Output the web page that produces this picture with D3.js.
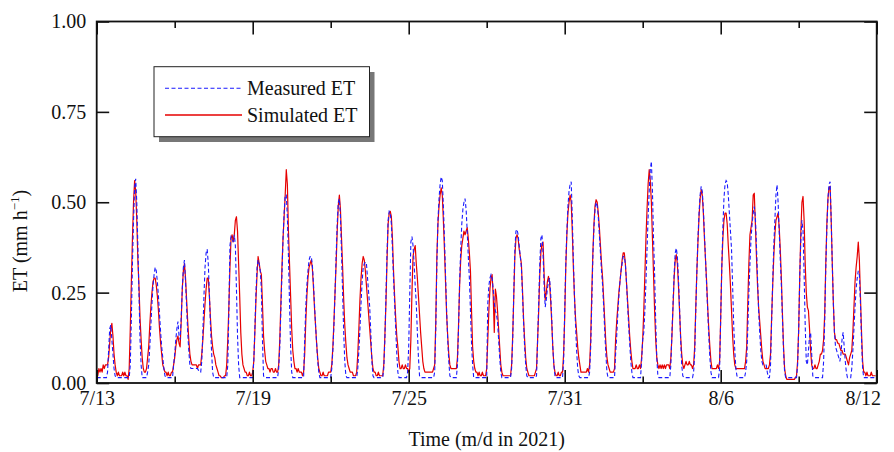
<!DOCTYPE html>
<html><head><meta charset="utf-8">
<script src="https://cdn.jsdelivr.net/npm/d3@7"></script>
<style>
body{margin:0;background:#fff}
svg{display:block}
text{font-family:"Liberation Serif","Times New Roman",serif;fill:#111}
</style>
</head><body>
<svg id="chart" width="894" height="452"></svg>
<script>
// ---- data (hourly ET, mm h-1), one row per day starting 2021-07-13 00:00 ----
const startDate = "2021-07-13";
const endDate = "2021-08-12";
const majorTickLabels = ["7/13","7/19","7/25","7/31","8/6","8/12"];
const yTickValues = [0, 0.25, 0.5, 0.75, 1.0];
const seriesNames = ["Measured ET", "Simulated ET"];
const xTitle = "Time (m/d in 2021)";

const measured = [
[.015,.015,.015,.015,.015,.015,.015,.015,.015,.015,.03,.09,.15,.16,.12,.08,.04,.02,.015,.015,.015,.015,.015,.015],
[.015,.015,.015,.015,.015,.015,.015,.05,.18,.33,.45,.54,.565,.50,.38,.25,.12,.05,.015,.015,.015,.015,.015,.03],
[.05,.10,.16,.22,.27,.30,.32,.31,.28,.24,.19,.14,.10,.07,.04,.02,.015,.015,.015,.015,.015,.015,.015,.05],
[.08,.12,.15,.17,.13,.12,.18,.26,.32,.34,.28,.21,.14,.09,.05,.04,.04,.04,.04,.04,.04,.04,.035,.03],
[.03,.06,.14,.24,.32,.36,.37,.33,.25,.16,.09,.03,.015,.015,.015,.015,.015,.015,.015,.015,.015,.015,.015,.015],
[.015,.05,.20,.38,.405,.40,.39,.41,.38,.26,.13,.05,.015,.015,.015,.015,.015,.015,.015,.015,.015,.015,.015,.015],
[.015,.06,.15,.25,.32,.34,.33,.31,.26,.12,.02,.015,.015,.015,.015,.015,.015,.015,.015,.015,.015,.015,.015,.015],
[.04,.10,.20,.30,.40,.47,.52,.52,.46,.35,.22,.10,.03,.015,.015,.015,.015,.015,.015,.015,.015,.015,.015,.015],
[.12,.21,.27,.31,.34,.35,.35,.33,.28,.22,.16,.11,.06,.03,.015,.015,.015,.015,.015,.015,.015,.015,.015,.015],
[.015,.04,.09,.16,.25,.35,.44,.50,.51,.46,.36,.25,.14,.06,.02,.015,.015,.015,.015,.015,.015,.015,.015,.015],
[.015,.04,.09,.15,.22,.28,.32,.33,.335,.33,.29,.25,.21,.14,.06,.02,.015,.015,.015,.015,.015,.015,.015,.015],
[.015,.04,.12,.24,.36,.45,.475,.47,.44,.37,.29,.22,.15,.08,.03,.015,.015,.015,.015,.015,.015,.015,.015,.03],
[.10,.25,.39,.405,.38,.33,.27,.22,.14,.07,.02,.015,.015,.015,.015,.015,.015,.015,.015,.015,.015,.015,.015,.015],
[.03,.15,.33,.45,.51,.55,.57,.56,.49,.40,.30,.20,.12,.06,.02,.015,.015,.015,.015,.015,.015,.05,.15,.28],
[.37,.44,.48,.50,.51,.48,.42,.35,.29,.20,.11,.05,.015,.015,.015,.015,.015,.015,.015,.015,.015,.015,.015,.015],
[.015,.22,.27,.29,.30,.29,.26,.22,.20,.19,.17,.12,.07,.03,.015,.015,.015,.015,.015,.015,.015,.015,.015,.04],
[.12,.25,.37,.42,.425,.41,.38,.35,.32,.25,.17,.10,.05,.02,.015,.015,.015,.015,.015,.015,.015,.015,.02,.12],
[.22,.33,.40,.41,.36,.27,.21,.23,.26,.28,.29,.25,.18,.10,.05,.02,.015,.015,.015,.015,.015,.015,.015,.06],
[.20,.33,.42,.49,.53,.55,.557,.46,.34,.24,.16,.09,.04,.02,.015,.015,.015,.015,.015,.015,.015,.015,.015,.03],
[.10,.22,.35,.43,.48,.50,.49,.46,.41,.36,.31,.27,.21,.14,.08,.03,.015,.015,.015,.015,.015,.015,.015,.08],
[.13,.19,.24,.28,.31,.33,.35,.35,.33,.28,.22,.16,.11,.06,.03,.015,.015,.015,.015,.015,.015,.015,.015,.06],
[.12,.14,.20,.28,.37,.46,.53,.59,.613,.53,.40,.30,.17,.07,.02,.015,.015,.015,.015,.015,.015,.015,.015,.015],
[.015,.015,.05,.14,.22,.30,.36,.373,.35,.29,.21,.12,.05,.02,.015,.015,.015,.015,.015,.015,.015,.015,.015,.03],
[.08,.20,.31,.40,.47,.52,.544,.53,.48,.41,.34,.27,.20,.13,.07,.03,.015,.015,.015,.015,.015,.015,.015,.04],
[.18,.32,.43,.51,.55,.56,.555,.52,.47,.42,.37,.27,.16,.09,.04,.02,.015,.015,.015,.015,.015,.015,.015,.03],
[.06,.15,.25,.33,.40,.44,.47,.488,.46,.38,.29,.20,.14,.09,.06,.05,.05,.05,.05,.03,.015,.015,.05,.17],
[.28,.38,.45,.52,.548,.50,.42,.34,.27,.18,.09,.03,.015,.015,.015,.015,.015,.015,.015,.015,.015,.015,.015,.05],
[.15,.30,.40,.45,.42,.30,.16,.06,.05,.09,.13,.14,.08,.02,.015,.015,.015,.015,.015,.015,.015,.015,.015,.06],
[.17,.32,.43,.51,.55,.557,.45,.33,.22,.14,.10,.09,.08,.07,.06,.08,.12,.14,.10,.06,.03,.015,.015,.015],
[.015,.04,.09,.15,.21,.26,.29,.31,.30,.22,.12,.04,.015,.015,.015,.015,.015,.015,.015,.015,.015,.015,.015,.015]
];

const simulated = [
[.02,.02,.04,.03,.04,.03,.05,.04,.05,.05,.05,.07,.11,.15,.165,.13,.08,.05,.03,.02,.03,.02,.02,.02],
[.03,.02,.03,.02,.02,.01,.04,.15,.28,.40,.50,.56,.53,.45,.34,.27,.18,.12,.07,.04,.03,.03,.04,.07],
[.10,.16,.21,.25,.28,.29,.29,.27,.24,.20,.15,.11,.08,.05,.04,.03,.03,.02,.03,.02,.02,.03,.03,.05],
[.07,.10,.12,.13,.11,.10,.17,.26,.31,.33,.29,.23,.17,.12,.08,.06,.05,.05,.05,.05,.05,.04,.05,.05],
[.05,.08,.12,.17,.22,.26,.29,.29,.24,.18,.13,.10,.08,.07,.05,.04,.03,.02,.02,.015,.015,.015,.02,.02],
[.05,.12,.21,.32,.40,.41,.39,.41,.45,.46,.42,.33,.24,.14,.08,.05,.04,.03,.03,.02,.02,.03,.02,.02],
[.03,.06,.14,.23,.30,.35,.33,.31,.30,.22,.13,.09,.06,.05,.04,.04,.03,.04,.04,.03,.03,.04,.03,.03],
[.05,.12,.22,.32,.40,.46,.52,.59,.55,.42,.33,.24,.15,.09,.06,.04,.04,.03,.04,.03,.03,.03,.02,.03],
[.08,.17,.24,.29,.32,.33,.34,.32,.27,.21,.16,.11,.07,.04,.03,.02,.02,.03,.02,.02,.02,.02,.03,.03],
[.03,.05,.10,.17,.25,.33,.42,.49,.52,.48,.40,.32,.23,.16,.11,.07,.05,.04,.03,.03,.03,.02,.02,.02],
[.03,.08,.15,.23,.29,.33,.35,.34,.31,.27,.23,.19,.15,.11,.07,.04,.03,.03,.02,.02,.03,.02,.02,.02],
[.02,.05,.13,.22,.34,.44,.47,.475,.46,.40,.31,.24,.18,.13,.10,.06,.04,.04,.05,.04,.04,.05,.04,.04],
[.03,.04,.12,.25,.35,.37,.38,.33,.29,.24,.19,.14,.10,.06,.04,.03,.03,.03,.03,.03,.03,.03,.03,.04],
[.05,.17,.35,.44,.49,.52,.54,.52,.45,.37,.28,.19,.13,.08,.05,.04,.04,.04,.04,.04,.04,.07,.16,.27],
[.34,.38,.40,.42,.41,.42,.43,.40,.36,.31,.20,.10,.06,.04,.03,.03,.02,.03,.02,.02,.03,.02,.02,.02],
[.04,.12,.20,.26,.29,.30,.24,.14,.26,.24,.20,.15,.10,.05,.03,.02,.02,.02,.02,.02,.02,.02,.02,.05],
[.13,.24,.35,.40,.41,.40,.37,.35,.33,.26,.18,.12,.07,.04,.03,.02,.02,.02,.02,.02,.02,.03,.04,.12],
[.20,.30,.36,.385,.39,.30,.23,.25,.28,.295,.28,.23,.17,.10,.05,.03,.02,.02,.03,.02,.02,.03,.03,.08],
[.18,.32,.41,.47,.50,.52,.50,.42,.32,.24,.18,.14,.10,.07,.05,.03,.03,.03,.03,.03,.03,.04,.03,.05],
[.12,.25,.36,.44,.49,.507,.50,.47,.43,.38,.33,.29,.23,.17,.11,.07,.05,.04,.03,.03,.03,.03,.04,.12],
[.17,.21,.25,.28,.31,.34,.36,.36,.33,.28,.23,.18,.13,.09,.06,.04,.04,.04,.05,.04,.04,.05,.04,.07],
[.12,.20,.30,.40,.48,.55,.59,.56,.50,.40,.30,.20,.12,.07,.05,.04,.05,.04,.05,.04,.05,.04,.05,.05],
[.05,.04,.07,.13,.21,.29,.34,.355,.33,.27,.20,.13,.08,.05,.04,.05,.06,.05,.05,.06,.05,.05,.04,.05],
[.10,.21,.31,.39,.46,.51,.535,.52,.47,.40,.34,.28,.21,.15,.10,.06,.04,.04,.04,.04,.04,.05,.04,.06],
[.18,.32,.40,.45,.47,.47,.44,.38,.33,.27,.20,.13,.08,.05,.04,.04,.04,.04,.04,.04,.04,.04,.04,.06],
[.10,.22,.33,.41,.43,.45,.52,.525,.44,.35,.27,.21,.17,.13,.09,.06,.05,.04,.04,.04,.04,.05,.08,.18],
[.27,.35,.41,.45,.46,.47,.43,.37,.29,.19,.10,.04,.02,.01,.01,.01,.01,.01,.01,.01,.01,.015,.02,.06],
[.15,.30,.42,.50,.516,.45,.33,.25,.21,.20,.15,.09,.05,.04,.04,.05,.04,.04,.05,.06,.08,.08,.09,.12],
[.19,.33,.44,.51,.54,.544,.45,.33,.22,.14,.12,.12,.11,.11,.10,.09,.09,.08,.08,.08,.07,.06,.05,.07],
[.08,.09,.14,.21,.28,.32,.35,.39,.34,.24,.14,.06,.03,.03,.02,.03,.02,.02,.02,.03,.02,.02,.02,.02]
];

// ---- build ----
const t0 = new Date(startDate + "T00:00:00Z");
const t1 = new Date(endDate + "T00:00:00Z");
function toSeries(rows) {
  const out = [];
  rows.forEach((row, d) => row.forEach((v, h) => {
    out.push({ t: d3.utcHour.offset(t0, d * 24 + h), v });
  }));
  return out;
}
const mSeries = toSeries(measured);
const sSeries = toSeries(simulated);

const L = 96.7, R = 876.7, T = 21.5, B = 383;
const svg = d3.select("#chart");
const x = d3.scaleUtc().domain([t0, t1]).range([L, R]);
const y = d3.scaleLinear().domain([0, 1]).range([B, T]);

const majorTicks = majorTickLabels.map((_, i) => d3.utcDay.offset(t0, i * 6));
const minorTicks = majorTickLabels.slice(0, -1).map((_, i) => d3.utcDay.offset(t0, i * 6 + 3));

const line = d3.line().x(d => x(d.t)).y(d => y(d.v));

svg.append("path").datum(sSeries).attr("d", line)
  .attr("fill", "none").attr("stroke", "#e60000").attr("stroke-width", 1.2)
  .attr("stroke-linejoin", "round");
svg.append("path").datum(mSeries).attr("d", line)
  .attr("fill", "none").attr("stroke", "#1a1aff").attr("stroke-width", 1.1)
  .attr("stroke-dasharray", "4,2.5");

function styleAxis(g) {
  g.select(".domain").remove();
  g.selectAll(".tick line").attr("stroke", "#111").attr("stroke-width", 1.6);
  g.selectAll("text").attr("font-size", 20).style("font-family", '"Liberation Serif","Times New Roman",serif').attr("fill", "#111");
}

// bottom axis (labels)
const bottomAxis = svg.append("g").attr("transform", `translate(0,${B})`)
  .call(d3.axisBottom(x).tickValues(majorTicks).tickSize(-13).tickPadding(8)
    .tickFormat((d, i) => majorTickLabels[i]))
  .call(styleAxis);
// last label sits inside the right edge, as in the reference
bottomAxis.selectAll(".tick text").filter((d, i, n) => i === n.length - 1).attr("x", -14);
svg.append("g").attr("transform", `translate(0,${B})`)
  .call(d3.axisBottom(x).tickValues(minorTicks).tickSize(-6.5).tickFormat(""))
  .call(styleAxis);
// top axis
svg.append("g").attr("transform", `translate(0,${T})`)
  .call(d3.axisTop(x).tickValues(majorTicks).tickSize(-13).tickFormat(""))
  .call(styleAxis);
svg.append("g").attr("transform", `translate(0,${T})`)
  .call(d3.axisTop(x).tickValues(minorTicks).tickSize(-6.5).tickFormat(""))
  .call(styleAxis);
// left axis
svg.append("g").attr("transform", `translate(${L},0)`)
  .call(d3.axisLeft(y).tickValues(yTickValues).tickSize(-12.5).tickPadding(10.5)
    .tickFormat(d3.format(".2f")))
  .call(styleAxis);
// right axis
svg.append("g").attr("transform", `translate(${R},0)`)
  .call(d3.axisRight(y).tickValues(yTickValues).tickSize(-12.5).tickFormat(""))
  .call(styleAxis);

// frame
svg.append("rect").attr("x", L).attr("y", T).attr("width", R - L).attr("height", B - T)
  .attr("fill", "none").attr("stroke", "#111").attr("stroke-width", 1.8);

// titles
svg.append("text").attr("x", (L + R) / 2).attr("y", 446).attr("text-anchor", "middle")
  .attr("font-size", 20).text(xTitle);
const yt = svg.append("text").attr("transform", "translate(27,241) rotate(-90)")
  .attr("text-anchor", "middle").attr("font-size", 20);
yt.append("tspan").text("ET (mm h");
yt.append("tspan").attr("font-size", 13).attr("dy", -8).text("\u22121");
yt.append("tspan").attr("dy", 8).text(")");

// legend
const lg = svg.append("g");
lg.append("rect").attr("x", 159).attr("y", 72).attr("width", 215.5).attr("height", 70).attr("fill", "#777");
lg.append("rect").attr("x", 154).attr("y", 66.7).attr("width", 215.5).attr("height", 70)
  .attr("fill", "#fff").attr("stroke", "#222").attr("stroke-width", 1);
const legendItems = [
  { name: seriesNames[0], color: "#1a1aff", dash: "4,2.5", w: 1.1, yy: 88.3 },
  { name: seriesNames[1], color: "#e60000", dash: null, w: 1.5, yy: 115 }
];
legendItems.forEach(it => {
  lg.append("line").attr("x1", 165).attr("x2", 242).attr("y1", it.yy).attr("y2", it.yy)
    .attr("stroke", it.color).attr("stroke-width", it.w).attr("stroke-dasharray", it.dash);
  lg.append("text").attr("x", 247).attr("y", it.yy + 6.5).attr("font-size", 20).text(it.name);
});
</script>
</body></html>
